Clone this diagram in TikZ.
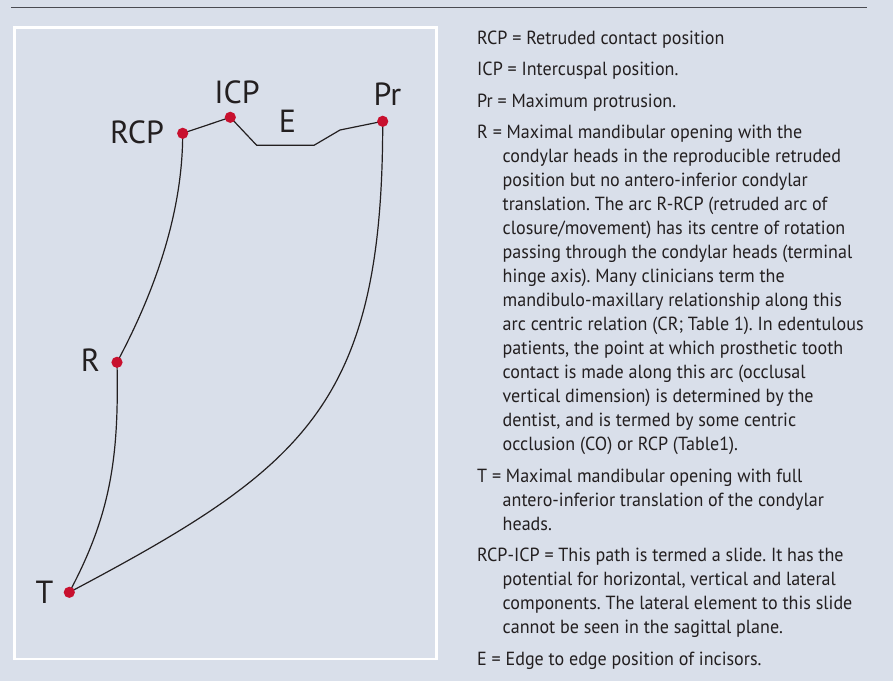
\documentclass[tikz,border=0pt]{standalone}
\usepackage{fontspec}
\setmainfont{PT Sans}
\newfontfamily\bodyfont[FakeStretch=0.95]{PT Sans}
\frenchspacing
\definecolor{bg}{HTML}{D9DFEA}
\definecolor{dotred}{HTML}{C8102E}
\definecolor{ink}{HTML}{231F20}
\definecolor{rule}{HTML}{4A4B52}
\begin{document}
\begin{tikzpicture}[x=1pt,y=-1pt,
  bodytext/.style={anchor=base west,inner sep=0pt,text=ink,font=\bodyfont\fontsize{19}{23}\selectfont\frenchspacing},
  ptlabel/.style={anchor=base,inner sep=0pt,text=ink,font=\fontsize{32}{36}\selectfont},
  pdot/.style={circle,fill=dotred,inner sep=0pt,minimum size=11.2pt},
  curve/.style={draw=ink,line width=1.2pt}]
\fill[bg] (0,0) rectangle (893,681);
\useasboundingbox (0,0) rectangle (893,681);
% top rule
\coordinate (ruleL) at (11,7.3);
\coordinate (ruleR) at (866.7,7.3);
\draw[rule,line width=1.3pt] (ruleL) -- (ruleR);
% frame
\draw[white,line width=2.5pt] (14.3,27.3) rectangle (436.5,659);
% points
\coordinate (RCP) at (182.7,133.3);
\coordinate (ICP) at (230.3,117.3);
\coordinate (k1) at (256.7,145.3);
\coordinate (k2) at (314,145.3);
\coordinate (k3) at (340,130);
\coordinate (Pr) at (382.7,121.3);
\coordinate (R) at (117,362.3);
\coordinate (T) at (69.3,592.3);
% connectors
\draw[curve] (RCP) -- (ICP) -- (k1) -- (k2) -- (k3) -- (Pr);
\draw[curve] (RCP) .. controls (182.7,213.3) and (154.6,291.9) .. (R);
\draw[curve] (R) .. controls (119,455) and (111.6,513.1) .. (T);
\draw[curve] (Pr) .. controls (383,405) and (304,468) .. (T);
% dots
\foreach \p in {RCP,ICP,Pr,R,T} \node[pdot] (\p dot) at (\p) {};
% labels
\node[ptlabel] (lRCP) at (137,143) {RCP};
\node[ptlabel] (lICP) at (237,103) {ICP};
\node[ptlabel] (lE) at (287.5,132) {E};
\node[ptlabel] (lPr) at (387.5,105) {Pr};
\node[ptlabel] (lR) at (90.5,371) {R};
\node[ptlabel] (lT) at (44.5,603) {T};
% legend text
\foreach \y/\x/\t [count=\i] in {
 44/477/{RCP = Retruded contact position},
 75.5/477/{ICP = Intercuspal position.},
 107/477/{Pr = Maximum protrusion.},
 138.5/477/{R = Maximal mandibular opening with the},
 162.5/502.5/{condylar heads in the reproducible retruded},
 186.5/502.5/{position but no antero-inferior condylar},
 210.5/502.5/{translation. The arc R-RCP (retruded arc of},
 234.5/502.5/{closure/movement) has its centre of rotation},
 258.5/502.5/{passing through the condylar heads (terminal},
 282.5/502.5/{hinge axis). Many clinicians term the},
 306.5/502.5/{mandibulo-maxillary relationship along this},
 330.5/502.5/{arc centric relation (CR; Table 1). In edentulous},
 354.5/502.5/{patients, the point at which prosthetic tooth},
 378.5/502.5/{contact is made along this arc (occlusal},
 402.5/502.5/{vertical dimension) is determined by the},
 426.5/502.5/{dentist, and is termed by some centric},
 450.5/502.5/{occlusion (CO) or RCP (Table1).},
 482/477/{T = Maximal mandibular opening with full},
 506/502.5/{antero-inferior translation of the condylar},
 530/502.5/{heads.},
 561.5/477/{RCP-ICP = This path is termed a slide. It has the},
 585.5/502.5/{potential for horizontal, vertical and lateral},
 609.5/502.5/{components. The lateral element to this slide},
 633.5/502.5/{cannot be seen in the sagittal plane.},
 665/477/{E = Edge to edge position of incisors.}}
 \node[bodytext] (line\i) at (\x,\y) {\t};
\end{tikzpicture}
\end{document}
